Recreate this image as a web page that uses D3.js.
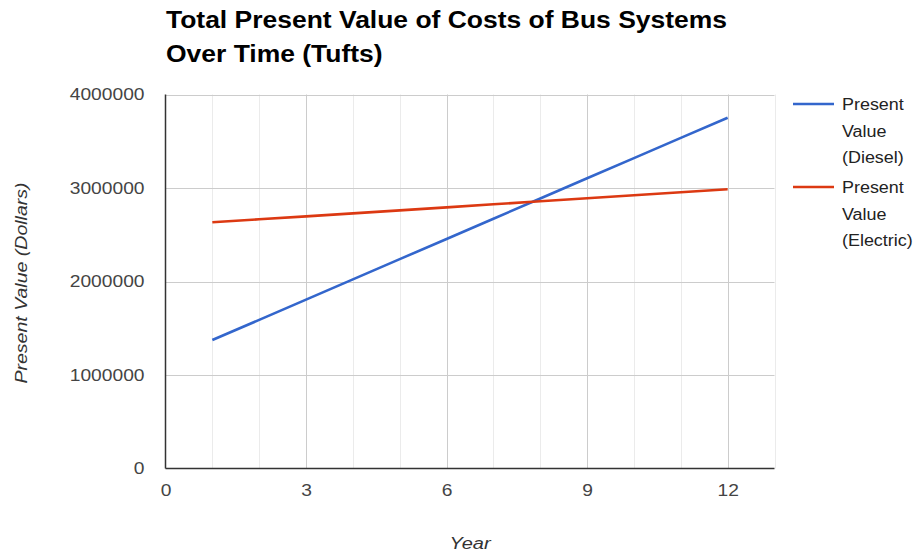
<!DOCTYPE html>
<html>
<head>
<meta charset="utf-8">
<script src="https://cdn.jsdelivr.net/npm/d3@7"></script>
<style>
  html, body { margin: 0; padding: 0; background: #fff; }
  svg { display: block; font-family: "Liberation Sans", Arial, Helvetica, sans-serif; }
</style>
</head>
<body>
<svg id="chart" width="921" height="552"></svg>
<script>
// Years on the x axis
const years = [1, 2, 3, 4, 5, 6, 7, 8, 9, 10, 11, 12];
// Present value of total costs, in dollars
const dieselValues = [1374000, 1590000, 1806000, 2023000, 2239000, 2455000,
                      2671000, 2888000, 3104000, 3320000, 3536000, 3752000];
const electricValues = [2633000, 2665000, 2697000, 2729000, 2761000, 2793000,
                        2826000, 2858000, 2890000, 2922000, 2954000, 2986000];
const seriesNames = ["Present Value (Diesel)", "Present Value (Electric)"];
const xTicks = [0, 3, 6, 9, 12];
const yTicks = [0, 1000000, 2000000, 3000000, 4000000];
const titleLines = ["Total Present Value of Costs of Bus Systems", "Over Time (Tufts)"];

const colors = ["#3366cc", "#dc3912"];
const series = [dieselValues, electricValues].map((vals, i) => ({
  name: seriesNames[i],
  color: colors[i],
  points: years.map((yr, j) => ({ x: yr, y: vals[j] }))
}));

// Widen text a little so the face reads like Helvetica
function widen(sel, factor) {
  sel.each(function () {
    const w = this.getComputedTextLength();
    d3.select(this).attr("textLength", w * factor).attr("lengthAdjust", "spacingAndGlyphs");
  });
}

const svg = d3.select("#chart");
const plotLeft = 165.5, plotRight = 774.5, plotTop = 94.5, plotBottom = 468.5;

const x = d3.scaleLinear().domain([0, 13]).range([plotLeft, plotRight]);
const y = d3.scaleLinear().domain([0, 4000000]).range([plotBottom, plotTop]);

// Minor vertical gridlines at each year
const minor = d3.range(1, 14).filter(v => !xTicks.includes(v));
svg.append("g").selectAll("line").data(minor).join("line")
  .attr("x1", d => Math.round(x(d)) + 0.5).attr("x2", d => Math.round(x(d)) + 0.5)
  .attr("y1", plotTop).attr("y2", plotBottom)
  .attr("stroke", "#ebebeb").attr("stroke-width", 1);

// Major gridlines
svg.append("g").selectAll("line").data(xTicks.filter(d => d > 0)).join("line")
  .attr("x1", d => Math.round(x(d)) + 0.5).attr("x2", d => Math.round(x(d)) + 0.5)
  .attr("y1", plotTop).attr("y2", plotBottom)
  .attr("stroke", "#cccccc").attr("stroke-width", 1);

svg.append("g").selectAll("line").data(yTicks.filter(d => d > 0)).join("line")
  .attr("x1", plotLeft).attr("x2", plotRight)
  .attr("y1", d => Math.round(y(d)) + 0.5).attr("y2", d => Math.round(y(d)) + 0.5)
  .attr("stroke", "#cccccc").attr("stroke-width", 1);

// Axes built with d3-axis, styled to bare labels
const xAxis = svg.append("g").attr("transform", `translate(0,${plotBottom})`)
  .call(d3.axisBottom(x).tickValues(xTicks).tickSize(0).tickPadding(16).tickFormat(d3.format("d")));
xAxis.select(".domain").remove();
xAxis.selectAll("text").attr("font-size", 16).attr("fill", "#444").attr("font-family", "Liberation Sans, Arial, sans-serif")
  .call(widen, 1.2);

const yAxis = svg.append("g").attr("transform", `translate(${plotLeft},0)`)
  .call(d3.axisLeft(y).tickValues(yTicks).tickSize(0).tickPadding(21).tickFormat(d3.format("d")));
yAxis.select(".domain").remove();
yAxis.selectAll("text").attr("font-size", 16).attr("fill", "#444").attr("font-family", "Liberation Sans, Arial, sans-serif")
  .call(widen, 1.2);

// Baseline and left axis line
svg.append("line").attr("x1", plotLeft).attr("x2", plotRight).attr("y1", plotBottom).attr("y2", plotBottom)
  .attr("stroke", "#333").attr("stroke-width", 1.5);
svg.append("line").attr("x1", plotLeft).attr("x2", plotLeft).attr("y1", plotTop).attr("y2", plotBottom)
  .attr("stroke", "#333").attr("stroke-width", 1.5);

// Series lines
const line = d3.line().x(d => x(d.x)).y(d => y(d.y));
svg.append("g").selectAll("path").data(series).join("path")
  .attr("d", d => line(d.points))
  .attr("fill", "none")
  .attr("stroke", d => d.color)
  .attr("stroke-width", 2.6);

// Title, two lines
svg.append("g").selectAll("text").data(titleLines).join("text")
  .attr("x", 166).attr("y", (d, i) => 28 + i * 33.5)
  .attr("font-size", 23).attr("font-weight", "bold").attr("fill", "#000")
  .text(d => d)
  .call(widen, 1.15);

// Axis titles
svg.append("text")
  .attr("x", 470).attr("y", 549)
  .attr("text-anchor", "middle").attr("font-size", 16).attr("font-style", "italic").attr("fill", "#333")
  .text("Year")
  .call(widen, 1.25);

svg.append("text")
  .attr("transform", "translate(27,283) rotate(-90)")
  .attr("text-anchor", "middle").attr("font-size", 16).attr("font-style", "italic").attr("fill", "#333")
  .text("Present Value (Dollars)")
  .call(widen, 1.22);

// Legend
const legend = svg.append("g");
const legendY = [104, 187];
series.forEach((s, i) => {
  const g = legend.append("g").attr("transform", `translate(0,${legendY[i]})`);
  g.append("line").attr("x1", 793).attr("x2", 834).attr("y1", 0).attr("y2", 0)
    .attr("stroke", s.color).attr("stroke-width", 2.5);
  const words = ["Present", "Value", s.name.replace("Present Value ", "")];
  g.selectAll("text").data(words).join("text")
    .attr("font-size", 16).attr("fill", "#222")
    .attr("x", 842).attr("y", (d, k) => 6 + k * 26.5)
    .text(d => d)
    .call(widen, 1.12);
});
</script>
</body>
</html>
